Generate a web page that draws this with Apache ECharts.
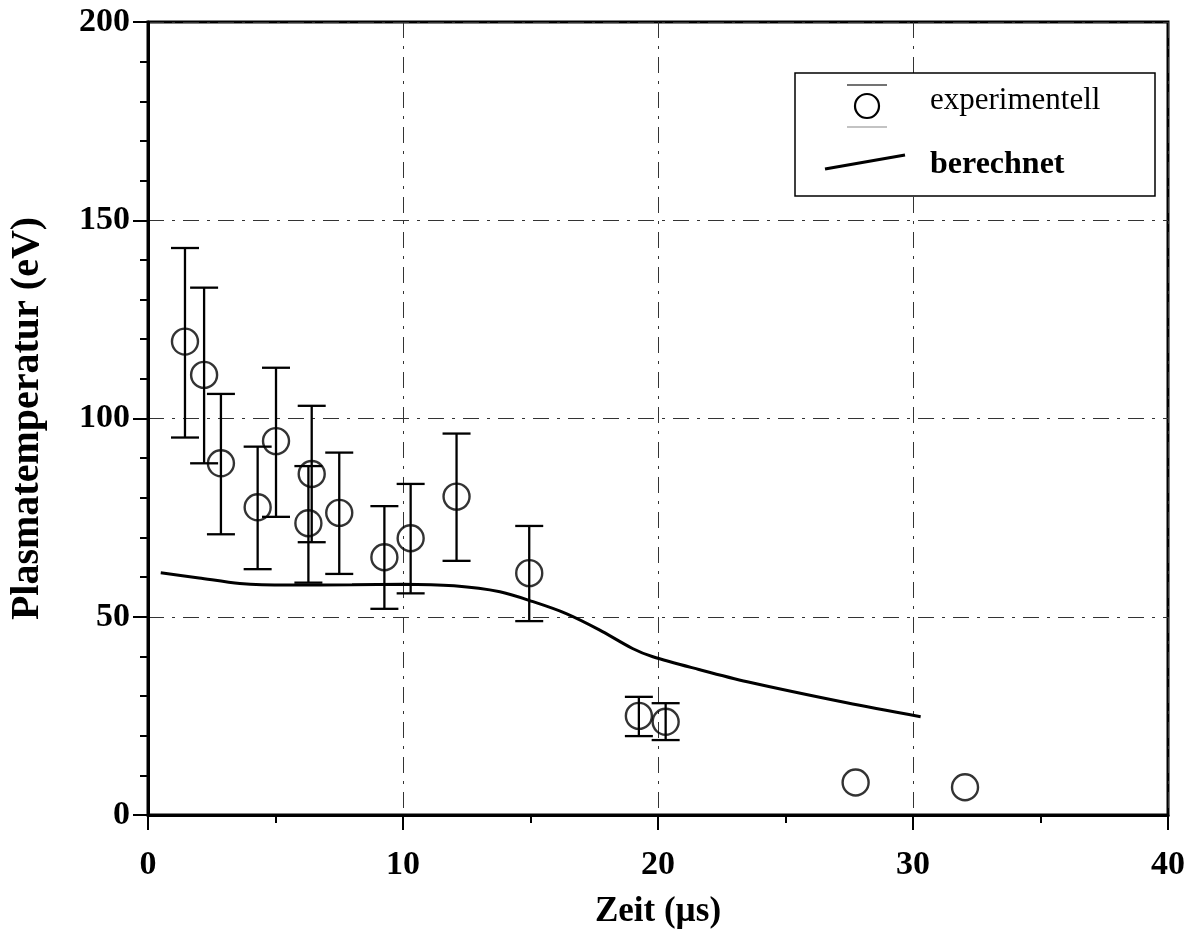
<!DOCTYPE html>
<html><head><meta charset="utf-8">
<script src="https://cdn.jsdelivr.net/npm/echarts@6/dist/echarts.min.js"></script>
<style>html,body{margin:0;padding:0;background:#fff}#c{width:1190px;height:940px}</style>
</head><body><div id="c"></div>
<script>
// ---- data ----
const xTicks = [0, 10, 20, 30, 40];
const yTicks = [0, 50, 100, 150, 200];
const seriesNames = ['experimentell', 'berechnet'];
const xTitle = 'Zeit (µs)';
const yTitle = 'Plasmatemperatur (eV)';

const expTime = [1.45, 2.2, 2.86, 4.3, 5.02, 6.29, 6.42, 7.5, 9.27, 10.3, 12.1, 14.95, 19.25, 20.3, 27.75, 32.04];
const expTemp = [119.4, 111.0, 88.7, 77.6, 94.3, 73.6, 86.0, 76.2, 65.0, 69.8, 80.3, 61.0, 25.0, 23.5, 8.2, 7.0];
const errLow  = [95.2, 88.7, 70.8, 62.0, 75.2, 58.6, 68.8, 60.8, 52.0, 55.9, 64.1, 48.9, 19.9, 18.9, null, null];
const errHigh = [143.0, 133.0, 106.2, 92.9, 112.8, 88.0, 103.2, 91.4, 77.9, 83.5, 96.2, 72.9, 29.8, 28.2, null, null];

const calcTime = [0.5, 2, 3.6, 5.5, 8, 10, 12, 13.8, 15.1, 16.4, 17.7, 19, 19.8, 21.6, 23.5, 27.4, 30.3];
const calcTemp = [61.1, 59.8, 58.4, 58.0, 58.1, 58.2, 57.8, 56.3, 53.8, 50.8, 46.7, 42.0, 39.9, 36.7, 33.6, 28.3, 24.8];

// ---- build ----
const FONT = '"Liberation Serif","Times New Roman",serif';
const scatterData = expTime.map((t, i) => [t, expTemp[i]]);
const errData = expTime.map((t, i) => errLow[i] == null ? null : [t, errLow[i], errHigh[i]]).filter(Boolean);
const lineData = calcTime.map((t, i) => [t, calcTemp[i]]);

const gridLine = { show: true, lineStyle: { color: '#333', width: 1, type: [16, 8, 3, 8] } };

const chart = echarts.init(document.getElementById('c'), null, { renderer: 'canvas' });
chart.setOption({
  animation: false,
  backgroundColor: '#fff',
  grid: { left: 148, right: 22, top: 22, bottom: 125, containLabel: false, outerBoundsMode: 'none',
          show: true, borderColor: '#000', borderWidth: 3, backgroundColor: 'transparent' },
  xAxis: {
    type: 'value', min: xTicks[0], max: xTicks[xTicks.length - 1], interval: xTicks[1] - xTicks[0],
    name: xTitle, nameLocation: 'middle', nameGap: 79,
    nameTextStyle: { fontFamily: FONT, fontWeight: 'bold', fontSize: 35, color: '#000' },
    axisLine: { show: true, onZero: false, lineStyle: { color: '#000', width: 3 } },
    axisTick: { show: true, inside: false, length: 15, lineStyle: { color: '#000', width: 2 } },
    minorTick: { show: true, splitNumber: 2, length: 8, lineStyle: { color: '#000', width: 2 } },
    splitLine: gridLine,
    axisLabel: { fontFamily: FONT, fontWeight: 'bold', fontSize: 34, color: '#000', margin: 33 }
  },
  yAxis: {
    type: 'value', min: yTicks[0], max: yTicks[yTicks.length - 1], interval: yTicks[1] - yTicks[0],
    name: yTitle, nameLocation: 'middle', nameGap: 100, nameRotate: 90,
    nameTextStyle: { fontFamily: FONT, fontWeight: 'bold', fontSize: 40, color: '#000' },
    axisLine: { show: true, onZero: false, lineStyle: { color: '#000', width: 3 } },
    axisTick: { show: true, inside: false, length: 15, lineStyle: { color: '#000', width: 2 } },
    minorTick: { show: true, splitNumber: 5, length: 8, lineStyle: { color: '#000', width: 2 } },
    splitLine: gridLine,
    axisLabel: { fontFamily: FONT, fontWeight: 'bold', fontSize: 34, color: '#000', margin: 18 }
  },
  series: [
    {
      name: seriesNames[1], type: 'line', data: lineData, smooth: 0.3, showSymbol: false,
      lineStyle: { color: '#000', width: 3 }, z: 3
    },
    {
      name: seriesNames[0] + ' Fehler', type: 'custom', data: errData,
      encode: { x: 0, y: [1, 2] }, z: 4,
      renderItem: function (params, api) {
        const x = api.value(0);
        const lo = api.coord([x, api.value(1)]);
        const hi = api.coord([x, api.value(2)]);
        const hw = 14;
        const st = { stroke: '#000', lineWidth: 2.3 };
        return { type: 'group', children: [
          { type: 'line', shape: { x1: hi[0], y1: hi[1], x2: lo[0], y2: lo[1] }, style: st },
          { type: 'line', shape: { x1: hi[0] - hw, y1: hi[1], x2: hi[0] + hw, y2: hi[1] }, style: st },
          { type: 'line', shape: { x1: lo[0] - hw, y1: lo[1], x2: lo[0] + hw, y2: lo[1] }, style: st }
        ]};
      }
    },
    {
      name: seriesNames[0], type: 'scatter', data: scatterData, symbol: 'circle', symbolSize: 26,
      itemStyle: { color: 'rgba(0,0,0,0)', borderColor: '#000', borderWidth: 2.4 }, z: 5
    }
  ],
  graphic: [{
    type: 'group', x: 795, y: 73, z: 100,
    children: [
      { type: 'rect', z: 100, shape: { x: 0, y: 0, width: 360, height: 123 }, style: { fill: '#fff', stroke: '#000', lineWidth: 1.5 } },
      { type: 'circle', z: 101, shape: { cx: 72, cy: 33, r: 12 }, style: { fill: 'none', stroke: '#000', lineWidth: 2.2 } },
      { type: 'line', z: 101, shape: { x1: 52, y1: 12, x2: 92, y2: 12 }, style: { stroke: '#444', lineWidth: 1.5 } },
      { type: 'line', z: 101, shape: { x1: 52, y1: 54, x2: 92, y2: 54 }, style: { stroke: '#888', lineWidth: 1.2 } },
      { type: 'text', z: 101, x: 135, y: 28, style: { text: seriesNames[0], fill: '#000', font: '31px ' + FONT, verticalAlign: 'middle', align: 'left' } },
      { type: 'line', z: 101, shape: { x1: 30, y1: 96, x2: 110, y2: 82 }, style: { stroke: '#000', lineWidth: 3 } },
      { type: 'text', z: 101, x: 135, y: 92, style: { text: seriesNames[1], fill: '#000', font: 'bold 32px ' + FONT, verticalAlign: 'middle', align: 'left' } }
    ]
  }]
});
</script>
</body></html>
